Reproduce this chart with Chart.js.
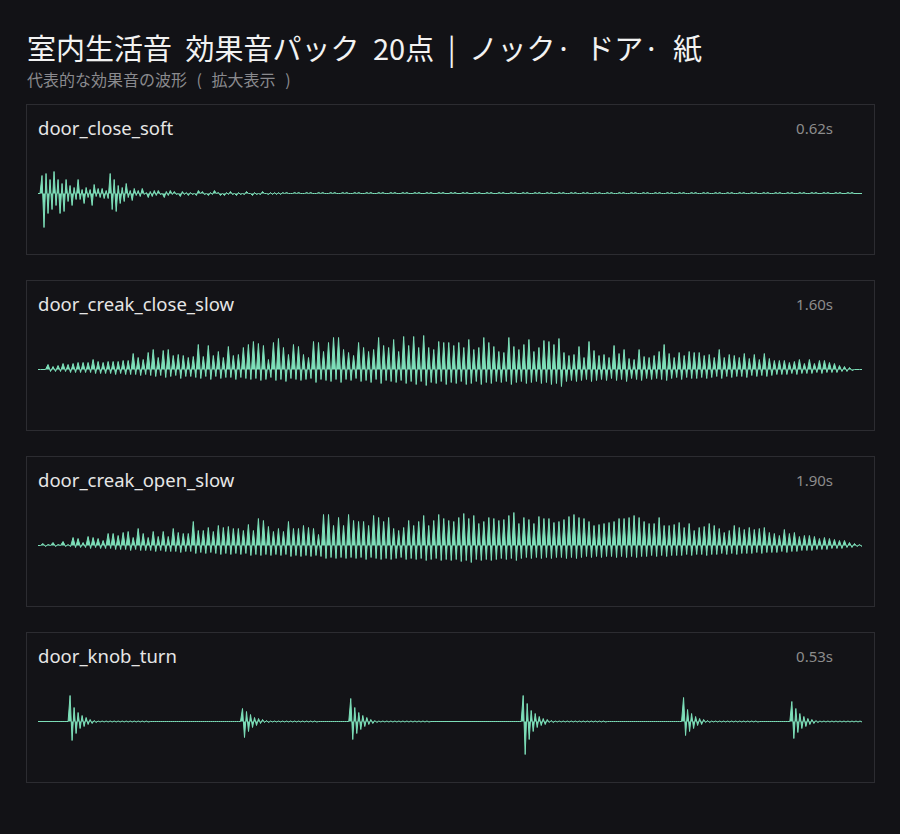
<!DOCTYPE html>
<html><head><meta charset="utf-8">
<script src="https://cdn.jsdelivr.net/npm/chart.js@4.4.1/dist/chart.umd.min.js"></script>
<style>
html,body{margin:0;padding:0;background:#121216;}
body{width:900px;height:834px;position:relative;overflow:hidden;font-family:"Noto Sans","Noto Sans CJK JP",sans-serif;}
#title{position:absolute;left:27px;top:26px;font-family:"Noto Sans CJK JP",sans-serif;font-size:29px;line-height:42px;color:#f2f2f2;white-space:nowrap;word-spacing:7px;}
#subtitle{position:absolute;left:27px;top:68px;font-family:"Noto Sans CJK JP",sans-serif;font-size:16px;line-height:22px;color:#8a8a8e;white-space:nowrap;word-spacing:6px;}
.panel{position:absolute;left:26px;width:849px;height:151px;box-sizing:border-box;border:1px solid #2c2c31;background:#131317;}
.label{position:absolute;left:11px;top:10px;font-size:18.5px;line-height:26px;color:#e6e6e6;white-space:nowrap;}
.dur{position:absolute;right:41px;top:12px;font-size:15px;line-height:22px;color:#8c8c8c;white-space:nowrap;}
.wave{position:absolute;left:11px;top:42px;}
</style>
</head><body>
<div id="title">室内生活音 効果音パック 20点 | ノック· ドア· 紙</div>
<div id="subtitle">代表的な効果音の波形 ( 拡大表示 )</div>
<script>
const names = ['door_close_soft','door_creak_close_slow','door_creak_open_slow','door_knob_turn'];
const durations = ['0.62s','1.60s','1.90s','0.53s'];

// per-bucket peak (hi) and trough (lo) amplitudes, in px-equivalent units
const closeSoftHi = [0,18,20,14,22,14,10,14,8,6,
14,4,6,4,9,5,5,3,20,14,
8,6,10,3,5,3,5,1,2,3,
3,0,2,3,2,0,2,1,1,0,
3,2,0,1,3,1,0,1,2,0,
1,0,2,0,1,0,2,0,1,1,
1,1,1,0,1,1,0,1,1,0,
1,1,0,1,1,0,1,1,0,1,
1,0,1,1,0,1,1,0,1,1,
0,1,1,0,1,1,0,1,1,0,
1,1,0,1,1,0,1,1,0,1,
1,0,1,1,0,1,1,0,1,1,
0,1,1,0,1,1,0,1,1,0,
1,1,0,1,1,0,1,1,0,1,
1,0,1,1,0,1,1,0,1,1,
0,1,1,0,1,1,0,1,1,0,
1,1,0,1,1,0,1,1,0,1,
1,0,1,1,0,1,1,0,1,1,
0,1,1,0,1,1,0,1,1,0,
1,1,0,1,1,0,1,1,0,1,
1,0,1,1,0,0];
const closeSoftLo = [0,-34,-20,-16,-12,-20,-18,-8,-12,-6,
-6,-10,-4,-12,-3,-4,-5,-5,-16,-18,
-10,-8,-4,-7,-2,-3,-1,-4,-3,-2,
-1,-4,-2,-1,-1,-3,-1,-2,-1,-2,
0,-1,-2,-1,0,-2,-2,-1,-1,-2,
-1,-1,0,-2,-1,-1,0,-1,-1,-1,
-1,0,0,0,0,0,0,0,0,0,
0,0,0,0,0,0,0,0,0,0,
0,0,0,0,0,0,0,0,0,0,
0,0,0,0,0,0,0,0,0,0,
0,0,0,0,0,0,0,0,0,0,
0,0,0,0,0,0,0,0,0,0,
0,0,0,0,0,0,0,0,0,0,
0,0,0,0,0,0,0,0,0,0,
0,0,0,0,0,0,0,0,0,0,
0,0,0,0,0,0,0,0,0,0,
0,0,0,0,0,0,0,0,0,0,
0,0,0,0,0,0,0,0,0,0,
0,0,0,0,0,0,0,0,0,0,
0,0,0,0,0,0,0,0,0,0,
0,0,0,0,0,0];

const creakCloseHi = [0,0,5,3,4,6,5,6,7,7,
7,10,8,7,8,8,8,9,9,16,
12,10,17,20,12,19,20,14,15,14,
12,13,25,13,24,14,18,12,23,14,
15,22,25,28,26,24,10,27,31,22,
15,25,23,15,12,28,27,18,27,32,
32,20,17,14,27,22,18,20,32,24,
22,30,18,33,24,33,22,34,22,20,
28,27,27,24,27,22,30,20,22,32,
27,23,18,17,32,23,20,25,30,18,
22,29,28,25,31,17,14,15,23,12,
28,19,14,15,12,24,16,20,11,10,
20,13,12,14,18,25,16,12,17,14,
18,17,17,14,15,12,20,12,15,14,
12,16,11,15,10,16,11,9,9,9,
7,8,10,6,10,6,9,9,7,6,
4,3,2,0,0];
const creakCloseLo = [0,0,-2,-2,-2,-2,-3,-3,-3,-3,
-3,-4,-4,-4,-4,-5,-4,-5,-5,-5,
-6,-5,-6,-7,-6,-8,-7,-6,-9,-7,
-7,-8,-9,-7,-10,-7,-9,-8,-8,-10,
-8,-9,-10,-9,-11,-10,-8,-11,-10,-12,
-9,-10,-11,-10,-9,-13,-10,-11,-12,-10,
-13,-10,-11,-9,-12,-11,-13,-10,-14,-11,
-12,-13,-11,-14,-12,-15,-12,-16,-13,-14,
-12,-15,-13,-14,-12,-15,-14,-12,-15,-13,
-14,-12,-13,-12,-15,-13,-12,-14,-13,-12,
-14,-13,-15,-14,-17,-12,-11,-12,-11,-10,
-12,-11,-10,-11,-9,-11,-10,-12,-9,-10,
-11,-9,-10,-9,-10,-11,-9,-8,-10,-8,
-9,-9,-8,-9,-8,-7,-9,-7,-8,-7,
-7,-8,-6,-7,-6,-7,-6,-5,-5,-5,
-4,-5,-4,-4,-4,-3,-4,-3,-3,-3,
-2,-2,-1,0,0];

const creakOpenHi = [0,2,1,3,1,4,1,8,7,3,
9,8,7,5,12,12,10,13,14,8,
17,12,8,14,9,14,9,17,13,12,
12,24,15,15,18,14,20,18,19,17,
17,15,21,15,27,25,19,14,17,14,
24,17,17,20,18,17,11,31,31,20,
28,20,31,25,24,24,20,30,28,24,
28,17,15,18,25,20,24,30,20,25,
31,27,25,24,28,32,27,30,22,24,
28,27,25,26,30,33,22,28,26,22,
29,27,27,23,24,26,29,31,28,27,
24,20,21,22,23,24,27,27,28,30,
28,24,22,22,28,20,20,21,23,18,
22,15,18,19,22,20,17,13,15,20,
18,16,18,16,17,18,13,12,10,16,
12,13,9,10,10,9,7,8,7,6,
5,5,3,2,1];
const creakOpenLo = [0,-1,0,-1,0,-1,-1,-2,-2,-2,
-3,-2,-3,-3,-3,-4,-4,-4,-5,-4,
-5,-5,-5,-6,-5,-6,-6,-6,-7,-6,
-6,-8,-7,-8,-7,-8,-9,-8,-9,-8,
-9,-8,-10,-9,-10,-9,-10,-9,-10,-9,
-11,-10,-11,-10,-11,-10,-11,-13,-12,-13,
-12,-13,-12,-13,-12,-14,-12,-13,-14,-13,
-14,-13,-12,-14,-13,-14,-13,-15,-14,-13,
-15,-14,-15,-14,-16,-15,-17,-14,-15,-14,
-15,-14,-13,-14,-13,-15,-13,-12,-13,-12,
-13,-12,-13,-12,-12,-13,-12,-13,-12,-11,
-12,-11,-12,-11,-11,-12,-11,-12,-11,-12,
-11,-11,-10,-11,-10,-11,-10,-10,-10,-9,
-10,-9,-9,-10,-9,-9,-8,-9,-8,-9,
-8,-8,-8,-7,-8,-7,-7,-7,-6,-7,
-6,-6,-5,-5,-5,-4,-4,-4,-3,-3,
-3,-2,-2,-1,-1];

const knobHi = [0,0,0,0,0,0,0,0,
26,14,9,6,4,2,1,
0.5,0.5,0.5,0.5,0.5,0.5,0.5,0.5,0.5,0.5,0.5,0.5,0.5,
0,0,0,0,0,0,0,0,0,0,0,0,0,0,0,0,0,0,0,0,0,0,0,
13,10,7,4,3,2,1,
0.5,0.5,0.5,0.5,0.5,0.5,0.5,0.5,0.5,0.5,0.5,0.5,
0,0,0,0,0,0,0,0,
23,14,9,6,4,2,1,
0.5,0.5,0.5,0.5,0.5,0.5,0.5,0.5,0.5,0.5,0.5,0.5,0.5,
0,0,0,0,0,0,0,0,0,0,0,0,0,0,0,0,0,0,0,0,0,0,0,
26,18,11,8,5,3,2,1,
0.5,0.5,0.5,0.5,0.5,0.5,0.5,0.5,0.5,0.5,0.5,0.5,0.5,
0,0,0,0,0,0,0,0,0,0,0,0,0,0,0,0,0,0,0,
24,12,8,5,3,2,1,
0.5,0.5,0.5,0.5,0.5,0.5,0.5,0.5,0.5,0.5,0.5,0.5,
0,0,0,0,0,0,0,0,
20,13,8,5,3,2,1,
0.5,0.5,0.5,0.5,0.5,0.5,0.5,0.5,0.5,0.5,0.5];
const knobLo = [0,0,0,0,0,0,0,0,
-19,-12,-7,-5,-3,-2,-1,
-0.5,-0.5,-0.5,-0.5,-0.5,-0.5,-0.5,-0.5,-0.5,-0.5,-0.5,-0.5,-0.5,
0,0,0,0,0,0,0,0,0,0,0,0,0,0,0,0,0,0,0,0,0,0,0,
-16,-10,-6,-4,-2,-1,-1,
-0.5,-0.5,-0.5,-0.5,-0.5,-0.5,-0.5,-0.5,-0.5,-0.5,-0.5,-0.5,
0,0,0,0,0,0,0,0,
-18,-12,-8,-5,-3,-2,-1,
-0.5,-0.5,-0.5,-0.5,-0.5,-0.5,-0.5,-0.5,-0.5,-0.5,-0.5,-0.5,-0.5,
0,0,0,0,0,0,0,0,0,0,0,0,0,0,0,0,0,0,0,0,0,0,0,
-33,-18,-10,-6,-4,-3,-1,-1,
-0.5,-0.5,-0.5,-0.5,-0.5,-0.5,-0.5,-0.5,-0.5,-0.5,-0.5,-0.5,-0.5,
0,0,0,0,0,0,0,0,0,0,0,0,0,0,0,0,0,0,0,
-14,-10,-7,-4,-3,-1,-1,
-0.5,-0.5,-0.5,-0.5,-0.5,-0.5,-0.5,-0.5,-0.5,-0.5,-0.5,-0.5,
0,0,0,0,0,0,0,0,
-17,-11,-7,-5,-3,-2,-1,
-0.5,-0.5,-0.5,-0.5,-0.5,-0.5,-0.5,-0.5,-0.5,-0.5,-0.5];

const waves = [[closeSoftHi,closeSoftLo],[creakCloseHi,creakCloseLo],[creakOpenHi,creakOpenLo],[knobHi,knobLo]];
const WAVE_COLOR = '#7ddfb9';

names.forEach((name, p) => {
  const panel = document.createElement('div');
  panel.className = 'panel';
  panel.style.top = (104 + p * 176) + 'px';
  const lab = document.createElement('div'); lab.className = 'label'; lab.textContent = name;
  const dur = document.createElement('div'); dur.className = 'dur'; dur.textContent = durations[p];
  const cv = document.createElement('canvas'); cv.className = 'wave';
  cv.width = 824; cv.height = 92;
  cv.style.width = '824px'; cv.style.height = '92px';
  panel.appendChild(lab); panel.appendChild(dur); panel.appendChild(cv);
  document.body.appendChild(panel);

  const [hi, lo] = waves[p];
  const series = [];
  hi.forEach((h, i) => { series.push(h, lo[i]); });
  const labels = series.map((_, k) => k);

  new Chart(cv, {
    type: 'line',
    data: { labels, datasets: [{ data: series, borderColor: WAVE_COLOR, backgroundColor: WAVE_COLOR, borderWidth: 1, pointRadius: 0, tension: 0, fill: 'origin' }] },
    options: {
      responsive: false, animation: false, events: [],
      layout: { padding: 0 },
      plugins: { legend: { display: false }, tooltip: { enabled: false }, title: { display: false } },
      scales: {
        x: { type: 'category', display: false, offset: false },
        y: { display: false, min: -45.5, max: 46.5 }
      }
    }
  });
});
</script>
</body></html>
